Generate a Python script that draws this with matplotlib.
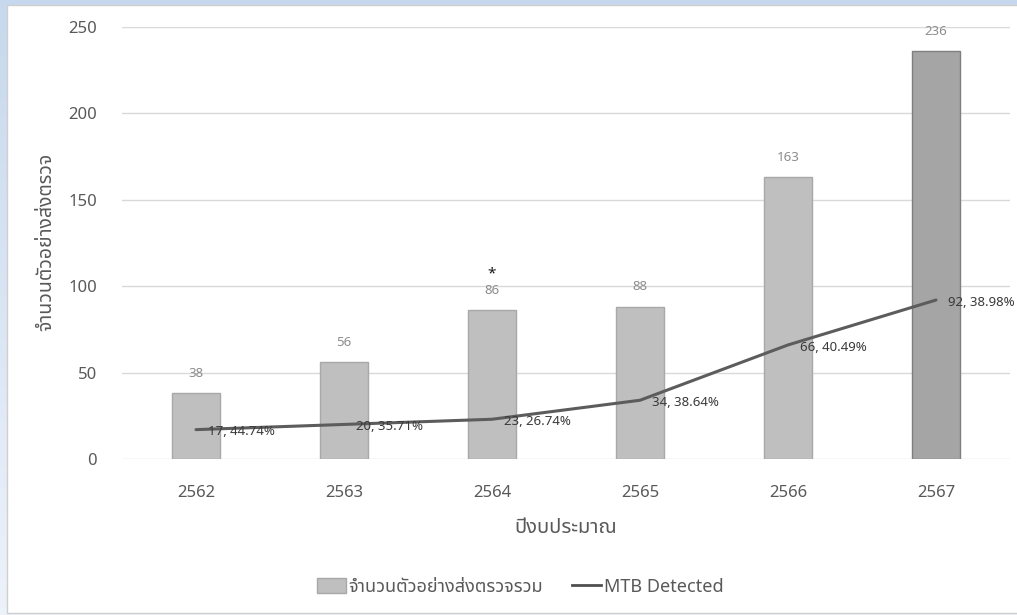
import matplotlib
matplotlib.use("Agg")
import matplotlib.pyplot as plt
import numpy as np
from matplotlib.patches import Rectangle
from matplotlib.lines import Line2D

plt.rcParams['font.family'] = ['Noto Sans', 'Noto Sans Thai']

# Data
years = ['2562', '2563', '2564', '2565', '2566', '2567']
total_samples = [38, 56, 86, 88, 163, 236]
mtb_detected = [17, 20, 23, 34, 66, 92]
mtb_percent = ['44.74%', '35.71%', '26.74%', '38.64%', '40.49%', '38.98%']
flagged_years = ['2564']

bar_label = 'จำนวนตัวอย่างส่งตรวจรวม'
line_label = 'MTB Detected'
x_title = 'ปีงบประมาณ'
y_title = 'จำนวนตัวอย่างส่งตรวจ'

W, H = 1017, 615
fig = plt.figure(figsize=(W / 100, H / 100), dpi=100)
fig.patch.set_facecolor('white')

# Window frame: pale blue gradient strip on top and left
bg = fig.add_axes([0, 0, 1, 1])
bg.set_xlim(0, W)
bg.set_ylim(H, 0)
bg.axis('off')
grad = np.linspace(0, 1, 256).reshape(-1, 1)
top_c = np.array([0.78, 0.85, 0.93])
bot_c = np.array([0.93, 0.95, 0.98])
img = top_c[None, None, :] * (1 - grad[:, :, None]) + bot_c[None, None, :] * grad[:, :, None]
bg.imshow(img, extent=[0, W, H, 0], aspect='auto', zorder=0)
bg.add_patch(Rectangle((6.5, 4.5), W, H - 7, facecolor='white',
                       edgecolor='#cfcfcf', linewidth=1, zorder=1))

ax = fig.add_axes([122 / W, 1 - 459 / H, (1010 - 122) / W, (459 - 27) / H])
ax.set_facecolor('none')
x = np.arange(len(years))

bar_colors = ['#bfbfbf'] * 5 + ['#a5a5a5']
edge_colors = ['#a8a8a8'] * 5 + ['#7f7f7f']
bars = ax.bar(x, total_samples, width=0.325, color=bar_colors,
              edgecolor=edge_colors, linewidth=1, zorder=2, label=bar_label)

ax.plot(x, mtb_detected, color='#5c5c5c', linewidth=2.2, zorder=3,
        solid_capstyle='round', label=line_label)

for xi, v in zip(x, total_samples):
    ax.annotate(str(v), (xi, v), xytext=(0, 14.5), textcoords='offset points',
                ha='center', va='center', fontsize=9.5, color='#8c8c8c', zorder=4)

for yr, xi, v in zip(years, x, total_samples):
    if yr in flagged_years:
        ax.annotate('*', (xi, v), xytext=(0, 26), textcoords='offset points',
                    ha='center', va='center', fontsize=11, color='#1a1a1a',
                    fontweight='bold', zorder=4)

for xi, n, p in zip(x, mtb_detected, mtb_percent):
    ax.annotate(f'{n}, {p}', (xi, n), xytext=(9, -1.5), textcoords='offset points',
                ha='left', va='center', fontsize=9.5, color='#3a3a3a', zorder=4)

ax.set_xlim(-0.5, len(years) - 0.5)
ax.set_ylim(0, 250)
ax.set_yticks([0, 50, 100, 150, 200, 250])
ax.set_xticks(x)
ax.set_xticklabels(years)
ax.grid(axis='y', color='#d9d9d9', linewidth=1, zorder=0)
ax.set_axisbelow(True)
for s in ax.spines.values():
    s.set_visible(False)
ax.tick_params(axis='both', length=0, labelsize=12, labelcolor='#595959')
ax.tick_params(axis='y', pad=18)
ax.tick_params(axis='x', pad=19)

fig.text(566 / W, 1 - 528 / H, x_title, ha='center', va='center',
         fontsize=14.5, color='#595959')
fig.text(46 / W, 1 - 242 / H, y_title, ha='center', va='center',
         rotation=90, fontsize=14, color='#595959')

handles = [Rectangle((0, 0), 1, 1, facecolor='#bfbfbf', edgecolor='#a8a8a8'),
           Line2D([0], [0], color='#4f4f4f', linewidth=2)]
fig.legend(handles, [bar_label, line_label], loc='center',
           bbox_to_anchor=(520 / W, 1 - 587 / H), ncol=2, frameon=False,
           fontsize=13, labelcolor='#595959', handlelength=1.6,
           handleheight=0.9, handletextpad=0.15, columnspacing=1.6)

fig.savefig('out.png', dpi=100)
